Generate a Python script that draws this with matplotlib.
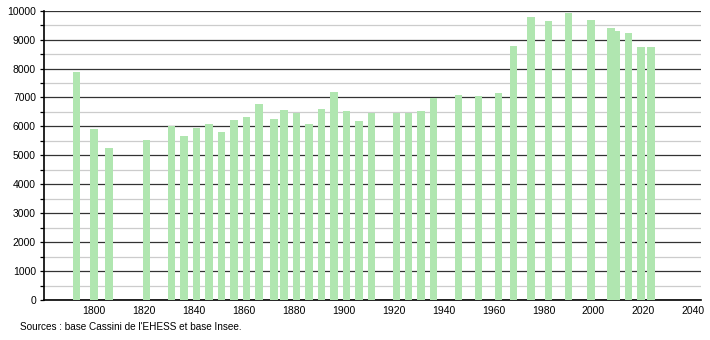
import numpy as np
import matplotlib.pyplot as plt
from matplotlib.ticker import MultipleLocator

plt.rcParams['font.family'] = ['Liberation Sans', 'DejaVu Sans']

years = [1793, 1800, 1806, 1821, 1831, 1836, 1841, 1846, 1851, 1856,
         1861, 1866, 1872, 1876, 1881, 1886, 1891, 1896, 1901, 1906,
         1911, 1921, 1926, 1931, 1936, 1946, 1954, 1962, 1968, 1975,
         1982, 1990, 1999, 2007, 2009, 2014, 2019, 2023]
population = [7870, 5900, 5250, 5520, 6030, 5670, 5940, 6100, 5800, 6220,
              6320, 6780, 6240, 6550, 6480, 6070, 6590, 7200, 6520, 6170,
              6470, 6480, 6480, 6520, 6970, 7100, 7060, 7140, 8790, 9770,
              9650, 9910, 9690, 9410, 9310, 9240, 8760, 8760]
source = "Sources : base Cassini de l'EHESS et base Insee."

fig = plt.figure(figsize=(7.1, 3.4), dpi=100)
ax = fig.add_axes([0.0624, 0.1176, 0.9246, 0.851])

ax.bar(years, population, width=3.0, color='#b0e6b0', zorder=3)

ax.set_xlim(1780, 2043)
ax.set_ylim(0, 10000)
ax.set_xticks(np.arange(1800, 2041, 20))
ax.yaxis.set_major_locator(MultipleLocator(1000))
ax.yaxis.set_minor_locator(MultipleLocator(500))

ax.grid(axis='y', which='major', color='#333333', linewidth=0.9, zorder=1)
ax.grid(axis='y', which='minor', color='#cccccc', linewidth=0.9, zorder=1)
ax.grid(axis='x', visible=False)

for s in ['top', 'right']:
    ax.spines[s].set_visible(False)
ax.spines['left'].set_color('black')
ax.spines['bottom'].set_color('black')
ax.spines['left'].set_linewidth(1.2)
ax.spines['bottom'].set_linewidth(1.2)

ax.tick_params(axis='y', which='both', length=3, width=0.9, labelsize=7.5, pad=3)
ax.tick_params(axis='x', which='both', length=0, labelsize=7.5, pad=4)

fig.text(0.028, 0.038, source, fontsize=7.2, ha='left', va='center')

plt.savefig('out.png', dpi=100)
plt.close(fig)
